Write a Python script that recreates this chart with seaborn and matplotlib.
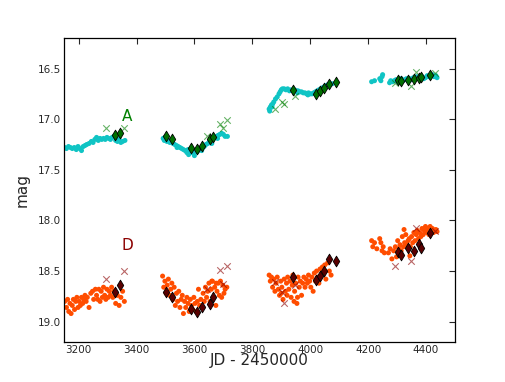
import matplotlib
matplotlib.use("Agg")
import matplotlib.pyplot as plt
import numpy as np
import pandas as pd
import seaborn as sns

# --- image A: dense light curve (small cyan dots) ---
a_jd = [3152, 3158, 3165, 3172, 3178, 3185, 3192, 3198, 3204, 3210, 3216, 3222, 3228, 3236,
        3244, 3250, 3256, 3262, 3268, 3274, 3280, 3286, 3292, 3298, 3304, 3310, 3316, 3322,
        3328, 3334, 3340, 3346, 3352, 3360,
        3492, 3496, 3500, 3505, 3510, 3515, 3520, 3526, 3532, 3538, 3544, 3550, 3556, 3562,
        3568, 3574, 3580, 3586, 3592, 3598, 3604, 3610, 3616, 3622, 3628, 3634, 3640, 3646,
        3652, 3658, 3664, 3670, 3676, 3682, 3688, 3694, 3700, 3706, 3714,
        3498, 3540, 3578, 3600, 3625, 3660, 3680,
        3858, 3862, 3866, 3870, 3874, 3880, 3886, 3892, 3896, 3900, 3904, 3910, 3916, 3922,
        3928, 3934, 3940, 3946, 3952, 3958, 3964, 3970, 3976, 3982, 3988, 3994, 4000, 4006,
        4012, 4018, 4024, 4030, 4036, 4042, 4048, 4054, 4060, 4068, 4076,
        3860, 3868, 3956, 3992,
        4212, 4222, 4240, 4244, 4248, 4250, 4274, 4278, 4284, 4290, 4296, 4302, 4308, 4314,
        4320, 4326, 4332, 4338, 4344, 4350, 4356, 4362, 4368, 4374, 4380, 4386, 4392, 4398,
        4404, 4410, 4416, 4422, 4428, 4434, 4438]
a_mag = [17.28, 17.29, 17.27, 17.28, 17.29, 17.28, 17.30, 17.27, 17.29, 17.31, 17.27, 17.26, 17.25, 17.24,
         17.22, 17.23, 17.20, 17.18, 17.21, 17.19, 17.20, 17.19, 17.20, 17.18, 17.19, 17.20, 17.18, 17.17,
         17.21, 17.22, 17.20, 17.23, 17.22, 17.21,
         17.19, 17.21, 17.20, 17.22, 17.21, 17.23, 17.22, 17.24, 17.25, 17.26, 17.27, 17.28, 17.29, 17.30,
         17.31, 17.33, 17.35, 17.32, 17.33, 17.34, 17.31, 17.32, 17.30, 17.29, 17.28, 17.27, 17.25, 17.24,
         17.22, 17.21, 17.20, 17.18, 17.17, 17.16, 17.15, 17.14, 17.15, 17.17, 17.17,
         17.18, 17.28, 17.30, 17.36, 17.31, 17.24, 17.19,
         16.90, 16.88, 16.86, 16.85, 16.83, 16.80, 16.78, 16.75, 16.73, 16.71, 16.70, 16.70, 16.71, 16.70,
         16.72, 16.71, 16.72, 16.71, 16.72, 16.72, 16.73, 16.73, 16.74, 16.74, 16.75, 16.74, 16.75, 16.75,
         16.74, 16.73, 16.72, 16.71, 16.70, 16.69, 16.68, 16.67, 16.66, 16.65, 16.65,
         16.92, 16.88, 16.74, 16.76,
         16.63, 16.62, 16.60, 16.62, 16.58, 16.56, 16.64, 16.62, 16.63, 16.62, 16.61, 16.63, 16.61, 16.60,
         16.62, 16.61, 16.60, 16.62, 16.60, 16.61, 16.59, 16.60, 16.58, 16.60, 16.59, 16.58, 16.60, 16.59,
         16.57, 16.58, 16.57, 16.56, 16.58, 16.57, 16.59]

# image A: diamonds and crosses
a_dia_jd = [3325, 3342, 3501, 3523, 3588, 3608, 3625, 3654, 3665,
            3940, 4020, 4034, 4048, 4064, 4090,
            4304, 4312, 4336, 4360, 4377, 4381, 4415]
a_dia_mag = [17.16, 17.14, 17.17, 17.20, 17.28, 17.29, 17.26, 17.20, 17.18,
             16.71, 16.75, 16.72, 16.69, 16.65, 16.63,
             16.61, 16.62, 16.61, 16.60, 16.59, 16.58, 16.56]
a_x_jd = [3293, 3356, 3642, 3688, 3699, 3711,
          3879, 3902, 3911, 3949,
          4292, 4364, 4347, 4432]
a_x_mag = [17.09, 17.09, 17.17, 17.05, 17.09, 17.01,
           16.90, 16.83, 16.85, 16.77,
           16.64, 16.53, 16.67, 16.54]

# --- image D: dense light curve (orange dots) ---
d_jd = [3152, 3158, 3162, 3166, 3170, 3174, 3178, 3182, 3186, 3190, 3194, 3198, 3202, 3206,
        3210, 3214, 3218, 3222, 3226, 3230, 3236, 3242, 3248, 3252, 3258, 3262, 3266, 3270,
        3274, 3278, 3282, 3286, 3290, 3294, 3298, 3302, 3306, 3310, 3314, 3318, 3322, 3328,
        3334, 3340, 3346, 3352, 3358,
        3490, 3494, 3498, 3502, 3506, 3510, 3514, 3518, 3522, 3526, 3530, 3534, 3538, 3542,
        3546, 3550, 3554, 3558, 3562, 3566, 3570, 3574, 3578, 3582, 3586, 3590, 3594, 3598,
        3602, 3606, 3610, 3614, 3618, 3622, 3626, 3630, 3634, 3638, 3642, 3646, 3650, 3654,
        3658, 3662, 3666, 3670, 3674, 3678, 3682, 3686, 3690, 3694, 3698, 3702, 3706, 3712,
        3660, 3675,
        3858, 3862, 3866, 3870, 3874, 3878, 3882, 3886, 3890, 3894, 3898, 3902, 3906, 3910,
        3914, 3918, 3922, 3926, 3930, 3934, 3938, 3942, 3946, 3950, 3954, 3958, 3962, 3966,
        3970, 3974, 3978, 3982, 3986, 3990, 3994, 3998, 4002, 4006, 4010, 4014, 4018, 4022,
        4026, 4030, 4034, 4038, 4042, 4046, 4050, 4054, 4060, 4066, 4072,
        3920, 3944, 3956, 3900, 3940,
        4212, 4216, 4222, 4230, 4240, 4244, 4248, 4252, 4256, 4270, 4276, 4282, 4288, 4294,
        4298, 4302, 4306, 4310, 4314, 4318, 4322, 4326, 4330, 4334, 4338, 4342, 4346, 4350,
        4354, 4358, 4362, 4366, 4370, 4374, 4378, 4382, 4386, 4390, 4394, 4398, 4402, 4406,
        4410, 4414, 4418, 4422, 4426, 4430, 4434, 4438, 4324, 4344]
d_mag = [18.80, 18.86, 18.78, 18.90, 18.82, 18.92, 18.84, 18.78, 18.88, 18.80, 18.76, 18.86, 18.80, 18.84,
         18.76, 18.82, 18.78, 18.74, 18.80, 18.76, 18.86, 18.72, 18.70, 18.78, 18.68, 18.74, 18.78, 18.68,
         18.80, 18.70, 18.76, 18.66, 18.74, 18.78, 18.68, 18.76, 18.70, 18.74, 18.66, 18.76, 18.70, 18.82,
         18.74, 18.84, 18.76, 18.70, 18.80,
         18.55, 18.66, 18.60, 18.72, 18.64, 18.58, 18.74, 18.68, 18.62, 18.78, 18.66, 18.84, 18.72, 18.80,
         18.70, 18.86, 18.78, 18.74, 18.92, 18.80, 18.86, 18.76, 18.82, 18.90, 18.78, 18.84, 18.88, 18.76,
         18.82, 18.90, 18.80, 18.68, 18.84, 18.78, 18.86, 18.72, 18.80, 18.66, 18.76, 18.70, 18.62, 18.80,
         18.68, 18.60, 18.76, 18.66, 18.84, 18.70, 18.62, 18.74, 18.60, 18.76, 18.64, 18.72, 18.68, 18.66,
         18.60, 18.62,
         18.54, 18.60, 18.56, 18.66, 18.58, 18.70, 18.62, 18.56, 18.68, 18.74, 18.60, 18.66, 18.78, 18.58,
         18.70, 18.62, 18.56, 18.68, 18.60, 18.76, 18.64, 18.56, 18.70, 18.62, 18.82, 18.56, 18.66, 18.60,
         18.74, 18.62, 18.56, 18.66, 18.58, 18.62, 18.54, 18.60, 18.66, 18.56, 18.70, 18.52, 18.60, 18.50,
         18.56, 18.62, 18.48, 18.54, 18.46, 18.52, 18.44, 18.58, 18.42, 18.50, 18.54,
         18.74, 18.80, 18.76, 18.72, 18.54,
         18.20, 18.26, 18.22, 18.28, 18.18, 18.22, 18.30, 18.26, 18.32, 18.32, 18.28, 18.38, 18.30, 18.26,
         18.36, 18.20, 18.28, 18.24, 18.30, 18.16, 18.26, 18.22, 18.14, 18.24, 18.20, 18.18, 18.26, 18.16,
         18.22, 18.12, 18.20, 18.14, 18.10, 18.18, 18.12, 18.16, 18.08, 18.14, 18.10, 18.06, 18.12, 18.08,
         18.14, 18.06, 18.10, 18.08, 18.12, 18.10, 18.09, 18.11, 18.09, 18.35]

# image D: diamonds and crosses
d_dia_jd = a_dia_jd
d_dia_mag = [18.71, 18.64, 18.71, 18.76, 18.88, 18.90, 18.86, 18.83, 18.76,
             18.56, 18.59, 18.55, 18.50, 18.38, 18.40,
             18.31, 18.34, 18.27, 18.30, 18.23, 18.27, 18.12]
d_x_jd = a_x_jd
d_x_mag = [18.58, 18.50, 18.68, 18.49, 18.63, 18.45,
           18.61, 18.71, 18.82, 18.64,
           18.45, 18.07, 18.40, 18.10]

labels = ["A", "D"]
label_jd = [3367, 3367]
label_mag = [16.97, 18.25]

sns.set_style("white")
plt.rcParams["font.family"] = ["DejaVu Sans"]

fig = plt.figure(figsize=(5.05, 3.82), dpi=100)
ax = fig.add_axes([0.127, 0.105, 0.774, 0.795])

dots = pd.DataFrame({"jd": a_jd + d_jd, "mag": a_mag + d_mag,
                     "img": ["A"] * len(a_jd) + ["D"] * len(d_jd)})
sns.scatterplot(data=dots, x="jd", y="mag", hue="img",
                palette={"A": "#10c4c4", "D": "#ff4d00"},
                s=13, linewidth=0, legend=False, ax=ax, zorder=2)

for xs, ys, col in [(a_x_jd, a_x_mag, "green"), (d_x_jd, d_x_mag, "#8b0000")]:
    sns.scatterplot(x=xs, y=ys, marker="x", color=col, alpha=0.6,
                    s=22, linewidth=0.8, legend=False, ax=ax, zorder=3)

for xs, ys, col in [(a_dia_jd, a_dia_mag, "#007000"), (d_dia_jd, d_dia_mag, "#5a0000")]:
    sns.scatterplot(x=xs, y=ys, marker="d", color=col, edgecolor="black",
                    s=30, linewidth=0.6, legend=False, ax=ax, zorder=4)

for lab, xj, ym, col in zip(labels, label_jd, label_mag, ["green", "#8b0000"]):
    ax.text(xj, ym, lab, color=col, fontsize=11, ha="center", va="center")

ax.set_xlim(3150, 4500)
ax.set_ylim(19.2, 16.2)
ax.set_xticks([3200, 3400, 3600, 3800, 4000, 4200, 4400])
ax.set_yticks([16.5, 17.0, 17.5, 18.0, 18.5, 19.0])
ax.tick_params(direction="in", top=True, right=True, length=4, width=0.8,
               labelsize=7.5, pad=2)
for sp in ax.spines.values():
    sp.set_color("black")
    sp.set_linewidth(0.9)
ax.set_xlabel("JD - 2450000", fontsize=11, labelpad=-1)
ax.set_ylabel("mag", fontsize=11, labelpad=6)

fig.savefig("out.png", dpi=100)
